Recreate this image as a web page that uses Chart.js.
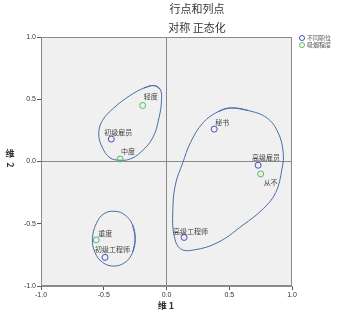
<!DOCTYPE html>
<html>
<head>
<meta charset="utf-8">
<script src="https://cdn.jsdelivr.net/npm/chart.js@4"></script>
<style>
  html, body { margin: 0; padding: 0; background: #fff; }
  #wrap { width: 345px; height: 315px; position: relative; }
</style>
</head>
<body>
<div id="wrap"><canvas id="myChart"></canvas></div>
<script>
// 标题
const titleLines = ['行点和列点', '对称 正态化'];

// 行点: 不同职位
const jobLabels = ['初级雇员', '秘书', '高级雇员', '高级工程师', '初级工程师'];
const jobX = [-0.44, 0.38, 0.73, 0.14, -0.49];
const jobY = [0.18, 0.26, -0.03, -0.61, -0.77];

// 列点: 吸烟程度
const smokeLabels = ['轻度', '中度', '从不', '重度'];
const smokeX = [-0.19, -0.37, 0.75, -0.56];
const smokeY = [0.45, 0.02, -0.10, -0.63];

// 图例
const seriesNames = ['不同职位', '吸烟程度'];

// 坐标轴刻度
const tickValues = [-1.0, -0.5, 0.0, 0.5, 1.0];

// 手画的分组圈 (数据坐标)
const loopA = [
  [-0.10, 0.61], [-0.05, 0.58], [-0.04, 0.49], [-0.06, 0.35], [-0.11, 0.19],
  [-0.21, 0.07], [-0.29, 0.02], [-0.37, 0.01], [-0.45, 0.03], [-0.51, 0.11],
  [-0.54, 0.22], [-0.51, 0.33], [-0.42, 0.43], [-0.29, 0.53], [-0.18, 0.59]
];
const loopB = [
  [0.51, 0.43], [0.65, 0.41], [0.80, 0.35], [0.89, 0.23], [0.93, 0.07],
  [0.92, -0.06], [0.87, -0.25], [0.77, -0.38], [0.61, -0.51], [0.41, -0.65],
  [0.22, -0.71], [0.11, -0.70], [0.06, -0.59], [0.05, -0.41], [0.07, -0.19],
  [0.13, -0.01], [0.19, 0.15], [0.29, 0.31], [0.41, 0.40]
];
const loopC = [
  [-0.25, -0.62], [-0.27, -0.51], [-0.33, -0.43], [-0.41, -0.40], [-0.50, -0.42],
  [-0.56, -0.50], [-0.59, -0.62], [-0.57, -0.73], [-0.51, -0.81], [-0.42, -0.84],
  [-0.33, -0.81], [-0.27, -0.73]
];

const blue = '#4b4fb8';
const green = '#4fbf55';
const loopColor = '#4a6da8';
const cjk = '"Noto Sans CJK SC", "Noto Sans", sans-serif';

const toPts = (xs, ys) => xs.map((x, i) => ({ x: x, y: ys[i] }));
// 首尾各多接一点, 让闭合处也是平滑曲线
const closeLoop = arr => [arr[arr.length - 1]].concat(arr, [arr[0], arr[1]]).map(p => ({ x: p[0], y: p[1] }));

// 标签偏移 (像素)
const labelOffset = {
  '轻度': [1, -9], '初级雇员': [-7, -7], '中度': [1, -8],
  '秘书': [1, -7], '高级雇员': [-6, -8], '从不': [3, 8],
  '高级工程师': [-11, -6], '重度': [2, -7], '初级工程师': [-10, -8]
};

const decor = {
  id: 'decor',
  beforeDraw(chart) {
    const { ctx, chartArea: a } = chart;
    ctx.save();
    ctx.fillStyle = '#f0f0f0';
    ctx.fillRect(a.left, a.top, a.right - a.left, a.bottom - a.top);
    ctx.restore();
  },
  afterDraw(chart) {
    const { ctx, chartArea: a } = chart;
    ctx.save();
    ctx.strokeStyle = '#8a8a8a';
    ctx.lineWidth = 1;
    ctx.strokeRect(a.left + 0.5, a.top + 0.5, a.right - a.left - 1, a.bottom - a.top - 1);

    // 标题
    ctx.fillStyle = '#333';
    ctx.textAlign = 'center';
    ctx.textBaseline = 'middle';
    ctx.font = '11px ' + cjk;
    ctx.fillText(titleLines[0], 197, 9);
    ctx.fillText(titleLines[1], 197, 28);

    // 轴标题
    ctx.font = 'bold 9px ' + cjk;
    ctx.fillText('维 1', 166, 306);
    // 竖排: 汉字直立, 数字旋转
    ctx.fillText('维', 10, 154);
    ctx.save();
    ctx.translate(10, 165);
    ctx.rotate(Math.PI / 2);
    ctx.fillText('2', 0, 0);
    ctx.restore();

    // 图例
    ctx.textAlign = 'left';
    ctx.font = '6px ' + cjk;
    [blue, green].forEach((c, i) => {
      const y = 38 + i * 7;
      ctx.beginPath();
      ctx.strokeStyle = c;
      ctx.arc(302, y, 2.5, 0, Math.PI * 2);
      ctx.stroke();
      ctx.fillStyle = '#555';
      ctx.fillText(seriesNames[i], 307, y);
    });

    // 点标签
    ctx.font = '7px ' + cjk;
    ctx.fillStyle = '#444';
    ctx.textAlign = 'left';
    [0, 1].forEach(di => {
      const meta = chart.getDatasetMeta(di);
      const labels = di === 0 ? jobLabels : smokeLabels;
      meta.data.forEach((el, i) => {
        const off = labelOffset[labels[i]] || [2, -7];
        ctx.fillText(labels[i], el.x + off[0], el.y + off[1]);
      });
    });
    ctx.restore();
  }
};

const ctx = document.getElementById('myChart').getContext('2d');
new Chart(ctx, {
  type: 'scatter',
  data: {
    datasets: [
      {
        label: seriesNames[0],
        data: toPts(jobX, jobY),
        pointRadius: 3,
        borderColor: blue,
        backgroundColor: 'rgba(0,0,0,0)',
        borderWidth: 1
      },
      {
        label: seriesNames[1],
        data: toPts(smokeX, smokeY),
        pointRadius: 3,
        borderColor: green,
        backgroundColor: 'rgba(0,0,0,0)',
        borderWidth: 1
      },
      ...[loopA, loopB, loopC].map(l => ({
        data: closeLoop(l),
        showLine: true,
        tension: 0.4,
        pointRadius: 0,
        borderColor: loopColor,
        borderWidth: 1,
        fill: false
      }))
    ]
  },
  options: {
    responsive: true,
    maintainAspectRatio: false,
    animation: false,
    events: [],
    layout: { padding: { top: 37, right: 53, left: 0, bottom: 0 } },
    plugins: {
      legend: { display: false },
      tooltip: { enabled: false }
    },
    scales: {
      x: {
        type: 'linear',
        min: -1, max: 1,
        afterFit: s => { s.height = 29; },
        afterBuildTicks: s => { s.ticks = tickValues.map(v => ({ value: v })); },
        ticks: {
          callback: v => v.toFixed(1),
          font: { size: 7, family: 'Arial, "Liberation Sans", sans-serif' },
          color: '#333',
          padding: 1,
          maxRotation: 0
        },
        grid: {
          color: c => (c.tick && c.tick.value === 0 ? '#8a8a8a' : 'rgba(0,0,0,0)'),
          tickColor: '#555',
          tickLength: 4
        },
        border: { color: '#8a8a8a' }
      },
      y: {
        type: 'linear',
        min: -1, max: 1,
        afterFit: s => { s.width = 41; },
        afterBuildTicks: s => { s.ticks = tickValues.map(v => ({ value: v })); },
        ticks: {
          callback: v => v.toFixed(1),
          font: { size: 7, family: 'Arial, "Liberation Sans", sans-serif' },
          color: '#333',
          padding: 1
        },
        grid: {
          color: c => (c.tick && c.tick.value === 0 ? '#8a8a8a' : 'rgba(0,0,0,0)'),
          tickColor: '#555',
          tickLength: 4
        },
        border: { color: '#8a8a8a' }
      }
    }
  },
  plugins: [decor]
});
</script>
</body>
</html>
